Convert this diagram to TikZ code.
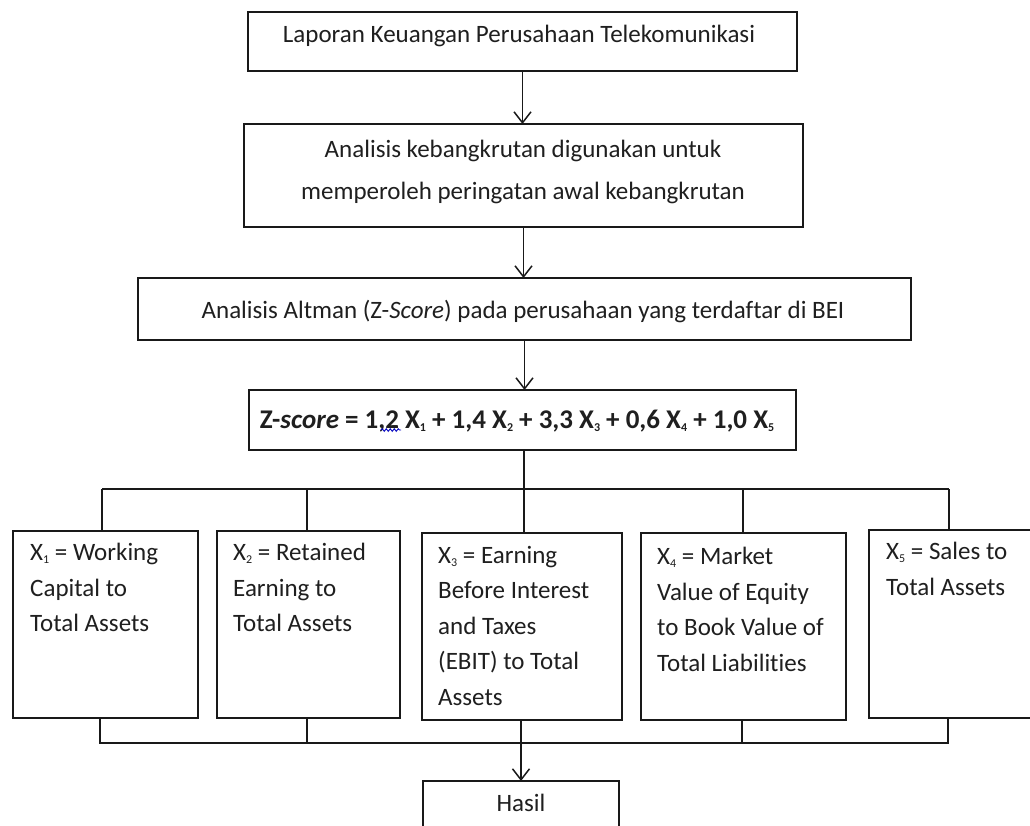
\documentclass[tikz,border=0pt]{standalone}
\usepackage{fontspec}
\setmainfont{Carlito}[Ligatures=NoCommon]
\usetikzlibrary{arrows.meta,decorations.pathmorphing}
\newcommand\subx[1]{\raisebox{-3pt}{\fontsize{12}{12}\selectfont #1}}
\begin{document}
\begin{tikzpicture}[x=1pt,y=-1pt,
  box/.style={draw=black!90, line width=1.8pt, inner sep=0pt, outer sep=0pt, anchor=north west},
  conn/.style={draw=black!90, line width=1.8pt},
  arr/.style={conn, -{Straight Barb[length=11pt,width=17pt,line width=1.5pt]}},
  lbl/.style={inner sep=0pt, text=black!88, font=\fontsize{25}{35.5}\selectfont},
  tl/.style={lbl, anchor=north west, align=left},
  tc/.style={lbl, anchor=center, align=center},
]
\useasboundingbox (0,0) rectangle (1030,825);
\fill[white] (0,0) rectangle (1030,825);
\begin{scope}
\clip (0,0) rectangle (1030,825);
% top chain
\node[box, minimum width=549pt, minimum height=59pt] (b1) at (248,12) {};
\node[box, minimum width=559pt, minimum height=103pt] (b2) at (244,124) {};
\node[box, minimum width=773pt, minimum height=62pt] (b3) at (138,278) {};
\node[box, minimum width=547pt, minimum height=60pt] (b4) at (249,390) {};
\node[tc] (t1) at (519,36) {Laporan Keuangan Perusahaan Telekomunikasi};
\node[tc, font=\fontsize{25}{42}\selectfont] (t2) at (523,172) {Analisis kebangkrutan digunakan untuk\\memperoleh peringatan awal kebangkrutan};
\node[tc] (t3) at (523,311) {Analisis Altman (Z-\textit{Score}) pada perusahaan yang terdaftar di BEI};
\node[tc, font=\fontsize{27}{35.5}\selectfont] (t4) at (517,421) {\textbf{Z-\textit{score} = 1,2 X\subx{1} + 1,4 X\subx{2} + 3,3 X\subx{3} + 0,6 X\subx{4} + 1,0 X\subx{5}}};
\draw[blue!75!black, line width=0.9pt, decorate, decoration={snake, amplitude=1.3pt, segment length=4pt}] (381,430) -- (401,430);
% lower boxes
\node[box, minimum width=185pt, minimum height=187pt] (x1) at (13,531) {};
\node[box, minimum width=183pt, minimum height=187pt] (x2) at (217,531) {};
\node[box, minimum width=200pt, minimum height=187pt] (x3) at (422,533) {};
\node[box, minimum width=205pt, minimum height=187pt] (x4) at (641,533) {};
\node[box, minimum width=180pt, minimum height=188pt] (x5) at (869,530) {};
\node[box, minimum width=196pt, minimum height=70pt] (h) at (423,781) {};
\node[tl] (tx1) at (30,543) {X\subx{1} = Working\\Capital to\\Total Assets};
\node[tl] (tx2) at (233,543) {X\subx{2} = Retained\\Earning to\\Total Assets};
\node[tl] (tx3) at (438,546) {X\subx{3} = Earning\\Before Interest\\and Taxes\\(EBIT) to Total\\Assets};
\node[tl] (tx4) at (657,547) {X\subx{4} = Market\\Value of Equity\\to Book Value of\\Total Liabilities};
\node[tl] (tx5) at (886,542) {X\subx{5} = Sales to\\Total Assets};
\node[tc] (th) at (521,803) {Hasil};
% connectors top
\draw[arr] (b1.south) -- (b1.south |- b2.north);
\draw[arr] (b2.south) -- (b2.south |- b3.north);
\draw[arr] (b3.south) -- (b3.south |- b4.north);
\coordinate (bt) at (524,489);
\coordinate (d1) at (102,489);
\coordinate (d2) at (307,489);
\coordinate (d4) at (743,489);
\coordinate (d5) at (949,489);
\draw[conn] (b4.south -| bt) -- (bt);
\draw[conn] (d1) -- (d5);
\draw[conn] (d1) -- (d1 |- x1.north);
\draw[conn] (d2) -- (d2 |- x2.north);
\draw[conn] (bt) -- (bt |- x3.north);
\draw[conn] (d4) -- (d4 |- x4.north);
\draw[conn] (d5) -- (d5 |- x5.north);
% connectors bottom
\coordinate (u1) at (100,743);
\coordinate (u2) at (307,743);
\coordinate (u3) at (521,743);
\coordinate (u4) at (742,743);
\coordinate (u5) at (948,743);
\draw[conn] (u1 |- x1.south) -- (u1) -- (u5) -- (u5 |- x5.south);
\draw[conn] (u2 |- x2.south) -- (u2);
\draw[conn] (u4 |- x4.south) -- (u4);
\draw[conn] (u3 |- x3.south) -- (u3);
\draw[arr] (u3) -- (u3 |- h.north);
\end{scope}
\end{tikzpicture}
\end{document}
